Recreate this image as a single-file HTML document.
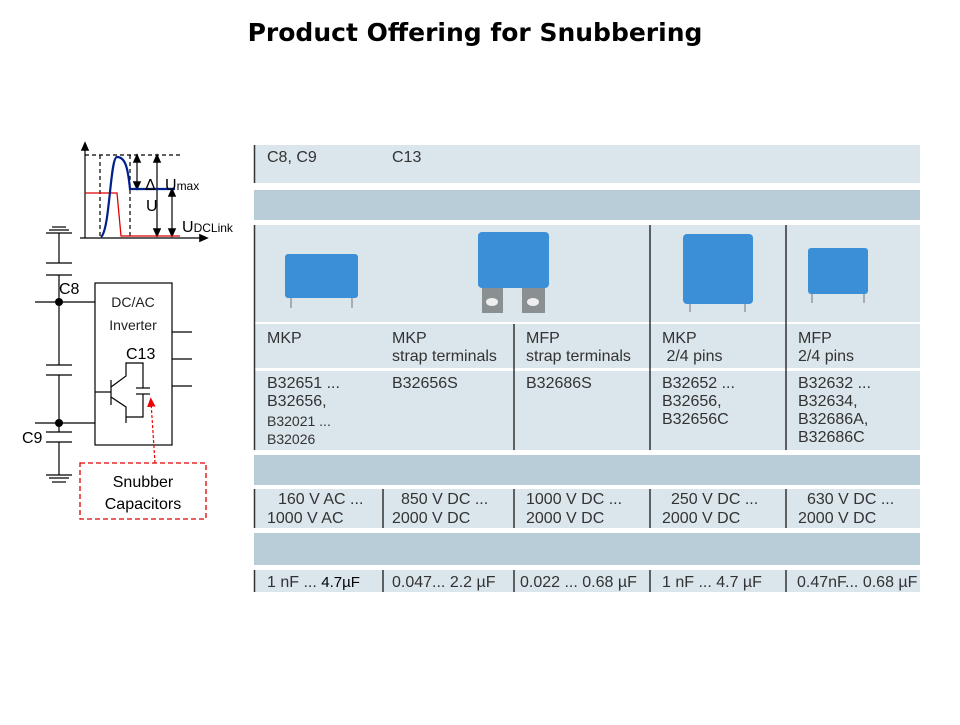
<!DOCTYPE html>
<html><head><style>
body{margin:0;background:#fff;width:960px;height:720px;overflow:hidden}
svg text{font-family:"Liberation Sans",sans-serif}
</style></head><body>
<svg width="960" height="720" viewBox="0 0 960 720" xmlns="http://www.w3.org/2000/svg">
<defs>
<marker id="a" markerWidth="8" markerHeight="8" refX="4" refY="4" orient="auto-start-reverse"><path d="M0,0.5 L8,4 L0,7.5z" fill="#000"/></marker>
<marker id="r" markerWidth="8" markerHeight="8" refX="4" refY="4" orient="auto"><path d="M0,0.5 L8,4 L0,7.5z" fill="#e00"/></marker>
</defs>
<text x="475" y="41" text-anchor="middle" font-size="25" font-weight="bold" style="font-family:'DejaVu Sans',sans-serif">Product Offering for Snubbering</text>

<!-- table -->
<g>
<rect x="254" y="145" width="666" height="38" fill="#dae5ec"/>
<rect x="254" y="190" width="666" height="30" fill="#b9cdd8"/>
<rect x="254" y="225" width="666" height="97" fill="#dae5ec"/>
<rect x="254" y="324" width="666" height="44" fill="#dae5ec"/>
<rect x="254" y="371" width="666" height="79" fill="#dae5ec"/>
<rect x="254" y="455" width="666" height="30" fill="#b9cdd8"/>
<rect x="254" y="489" width="666" height="39" fill="#dae5ec"/>
<rect x="254" y="533" width="666" height="32" fill="#b9cdd8"/>
<rect x="254" y="570" width="666" height="22" fill="#dae5ec"/>
<g stroke="#333" stroke-width="1.5">
<line x1="254.5" y1="145" x2="254.5" y2="183"/>
<line x1="254.5" y1="225" x2="254.5" y2="450"/>
<line x1="254.5" y1="489" x2="254.5" y2="528"/>
<line x1="254.5" y1="570" x2="254.5" y2="592"/>
<line x1="514" y1="324" x2="514" y2="450"/>
<line x1="650" y1="225" x2="650" y2="450"/>
<line x1="786" y1="225" x2="786" y2="450"/>
<line x1="383" y1="489" x2="383" y2="528"/><line x1="514" y1="489" x2="514" y2="528"/>
<line x1="650" y1="489" x2="650" y2="528"/><line x1="786" y1="489" x2="786" y2="528"/>
<line x1="383" y1="570" x2="383" y2="592"/><line x1="514" y1="570" x2="514" y2="592"/>
<line x1="650" y1="570" x2="650" y2="592"/><line x1="786" y1="570" x2="786" y2="592"/>
</g>
<g font-size="16" fill="#333">
<text x="267" y="162">C8, C9</text><text x="392" y="162">C13</text>
<text x="267" y="343">MKP</text>
<text x="392" y="343">MKP</text><text x="392" y="361">strap terminals</text>
<text x="526" y="343">MFP</text><text x="526" y="361">strap terminals</text>
<text x="662" y="343">MKP</text><text x="662" y="361">&#160;2/4 pins</text>
<text x="798" y="343">MFP</text><text x="798" y="361">2/4 pins</text>
<text x="267" y="388">B32651 ...</text><text x="267" y="406">B32656,</text>
<text x="267" y="426" font-size="14">B32021 ...</text><text x="267" y="444" font-size="14">B32026</text>
<text x="392" y="388">B32656S</text><text x="526" y="388">B32686S</text>
<text x="662" y="388">B32652 ...</text><text x="662" y="406">B32656,</text><text x="662" y="424">B32656C</text>
<text x="798" y="388">B32632 ...</text><text x="798" y="406">B32634,</text><text x="798" y="424">B32686A,</text><text x="798" y="442">B32686C</text>
<text x="278" y="504">160 V AC ...</text><text x="267" y="523">1000 V AC</text>
<text x="401" y="504">850 V DC ...</text><text x="392" y="523">2000 V DC</text>
<text x="526" y="504">1000 V DC ...</text><text x="526" y="523">2000 V DC</text>
<text x="671" y="504">250 V DC ...</text><text x="662" y="523">2000 V DC</text>
<text x="807" y="504">630 V DC ...</text><text x="798" y="523">2000 V DC</text>
<text x="267" y="587">1 nF ... <tspan fill="#000" font-size="15">4.7µF</tspan></text>
<text x="392" y="587">0.047... 2.2 µF</text><text x="520" y="587">0.022 ... 0.68 µF</text>
<text x="662" y="587">1 nF ... 4.7 µF</text><text x="797" y="587">0.47nF... 0.68 µF</text>
</g>
<!-- capacitor images -->
<g stroke="#999" stroke-width="1.5"><line x1="291" y1="296" x2="291" y2="308"/><line x1="352" y1="296" x2="352" y2="308"/>
<line x1="690" y1="300" x2="690" y2="312"/><line x1="745" y1="300" x2="745" y2="312"/>
<line x1="812" y1="292" x2="812" y2="303"/><line x1="864" y1="292" x2="864" y2="303"/></g>
<rect x="285" y="254" width="73" height="44" rx="3" fill="#3b8fd6"/>
<rect x="482" y="284" width="21" height="29" fill="#8a8f92"/><rect x="522" y="284" width="23" height="29" fill="#8a8f92"/>
<ellipse cx="492" cy="302" rx="6" ry="4" fill="#eee"/><ellipse cx="533" cy="302" rx="6" ry="4" fill="#eee"/>
<rect x="478" y="232" width="71" height="56" rx="4" fill="#3b8fd6"/>
<rect x="683" y="234" width="70" height="70" rx="4" fill="#3b8fd6"/>
<rect x="808" y="248" width="60" height="46" rx="3" fill="#3b8fd6"/>
</g>

<!-- graph -->
<g stroke="#000" stroke-width="1.2" fill="none">
<line x1="85" y1="238" x2="85" y2="146" marker-end="url(#a)"/>
<line x1="80" y1="238" x2="204" y2="238" marker-end="url(#a)"/>
<g stroke-dasharray="4,3"><line x1="100" y1="155" x2="100" y2="238"/><line x1="130" y1="155" x2="130" y2="238"/><line x1="85" y1="155" x2="183" y2="155"/></g>
<line x1="137" y1="158" x2="137" y2="186" marker-start="url(#a)" marker-end="url(#a)"/>
<line x1="157" y1="158" x2="157" y2="233" marker-start="url(#a)" marker-end="url(#a)"/>
<line x1="172" y1="192" x2="172" y2="233" marker-start="url(#a)" marker-end="url(#a)"/>
</g>
<path d="M85,193 H117 L121,236 H180" stroke="#d00" stroke-width="1.3" fill="none"/>
<path d="M101,237 C110,230 110,157 117,157 C126,157 128,170 130,189 H175" stroke="#00208a" stroke-width="2.2" fill="none"/>
<g font-size="16" fill="#000"><text x="145" y="190">Δ</text><text x="165" y="190">U<tspan font-size="12">max</tspan></text>
<text x="146" y="211">U</text><text x="182" y="232">U<tspan font-size="12">DCLink</tspan></text></g>

<!-- circuit -->
<g stroke="#000" stroke-width="1.2" fill="none">
<line x1="52" y1="227" x2="66" y2="227"/><line x1="49" y1="230" x2="69" y2="230"/><line x1="46" y1="233" x2="72" y2="233"/>
<line x1="59" y1="233" x2="59" y2="263"/><line x1="46" y1="263" x2="72" y2="263"/><line x1="46" y1="275" x2="72" y2="275"/>
<line x1="59" y1="275" x2="59" y2="365"/><line x1="46" y1="365" x2="72" y2="365"/><line x1="46" y1="375" x2="72" y2="375"/>
<line x1="59" y1="375" x2="59" y2="432"/><line x1="46" y1="432" x2="72" y2="432"/><line x1="46" y1="442" x2="72" y2="442"/>
<line x1="59" y1="442" x2="59" y2="475"/><line x1="46" y1="475" x2="72" y2="475"/><line x1="49" y1="478" x2="69" y2="478"/><line x1="52" y1="482" x2="66" y2="482"/>
<line x1="35" y1="302" x2="95" y2="302"/><line x1="35" y1="423" x2="95" y2="423"/>
<rect x="95" y="283" width="77" height="162"/>
<line x1="172" y1="332" x2="192" y2="332"/><line x1="172" y1="359" x2="192" y2="359"/><line x1="172" y1="386" x2="192" y2="386"/>
<line x1="95" y1="392" x2="111" y2="392"/><line x1="111" y1="380" x2="111" y2="405"/>
<path d="M111,387 L126,376 V363 H143 V388"/><line x1="136" y1="388" x2="150" y2="388"/><line x1="136" y1="394" x2="150" y2="394"/>
<path d="M111,397 L126,407 V423"/><path d="M143,394 V417 H126"/>
</g>
<circle cx="59" cy="302" r="4"/><circle cx="59" cy="423" r="4"/>
<g font-size="16"><text x="59" y="294">C8</text><text x="22" y="443">C9</text><text x="126" y="359">C13</text>
<text x="133" y="307" text-anchor="middle" font-family="DejaVu Sans" font-size="14" fill="#222">DC/AC</text>
<text x="133" y="330" text-anchor="middle" font-family="DejaVu Sans" font-size="14" fill="#222">Inverter</text>
<text x="143" y="487" text-anchor="middle">Snubber</text><text x="143" y="509" text-anchor="middle">Capacitors</text></g>
<rect x="80" y="463" width="126" height="56" fill="none" stroke="#d00" stroke-width="1.3" stroke-dasharray="5,3"/>
<line x1="155" y1="463" x2="151" y2="402" stroke="#e00" stroke-width="1.2" stroke-dasharray="3,2" marker-end="url(#r)"/>
</svg>
</body></html>
